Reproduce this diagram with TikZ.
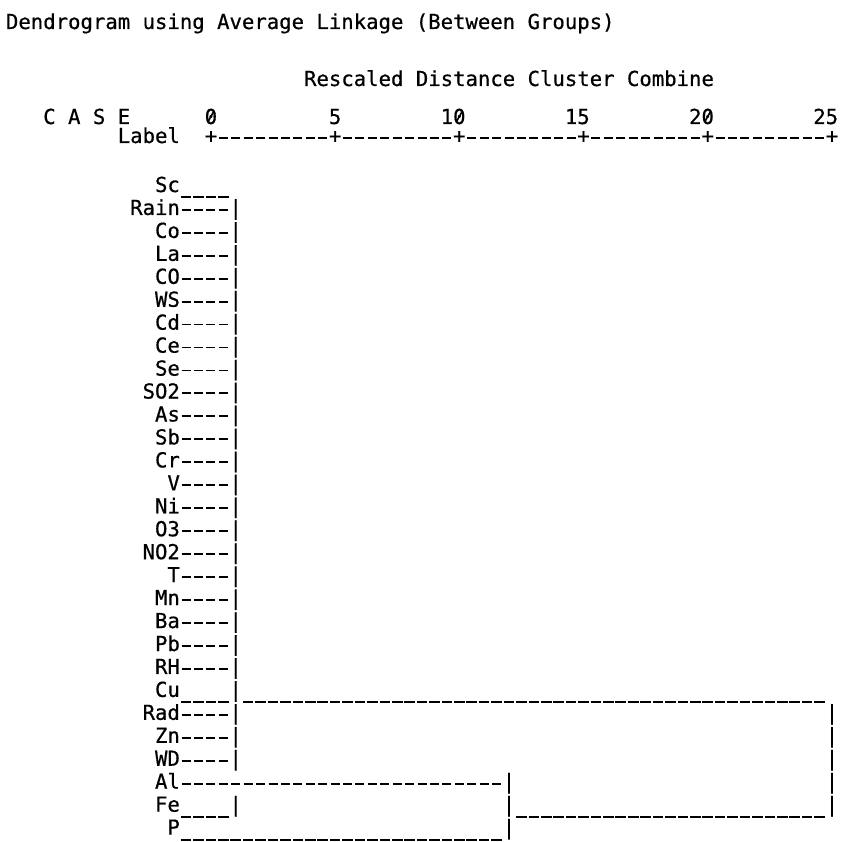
\documentclass[tikz,border=0pt]{standalone}
\usepackage{fontspec}
\setmonofont{DejaVu Sans Mono}[FakeBold=0.6]
\ExplSyntaxOn
\cs_new:Npn \myrep #1#2 { \prg_replicate:nn {#1} {#2} }
\ExplSyntaxOff
\newcommand{\mydash}{\makebox[12.42pt]{\rule[4.2pt]{9pt}{1.9pt}}}
\newcommand{\myus}{\makebox[12.42pt]{\rule[-6pt]{10.6pt}{1.9pt}}}
\newcommand{\us}[1]{\myrep{#1}{\myus}}
\newcommand{\hy}[1]{\myrep{#1}{\mydash}}
\begin{document}
\begin{tikzpicture}[x=1pt,y=1pt,
  txt/.style={inner sep=0pt, outer sep=0pt, text=black,
    font=\fontsize{20.63}{23}\selectfont\ttfamily},
  lft/.style={txt, anchor=base west},
  rgt/.style={txt, anchor=base east},
  zslash/.style={line width=1.6pt, black}]
\useasboundingbox (0,0) rectangle (843,-842);
% header
\node[lft] (title) at ({6+0*12.42}, -29) {Dendrogram using Average Linkage (Between Groups)};
\node[lft] (sub) at ({6+24*12.42}, -86) {Rescaled Distance Cluster Combine};
\node[lft] (case) at ({6+3*12.42}, -124) {C A S E};
\node[lft] (n0) at ({6+16*12.42}, -124) {0};
\node[lft] (n5) at ({6+26*12.42}, -124) {5};
\node[lft] (n10) at ({6+35*12.42}, -124) {10};
\node[lft] (n15) at ({6+45*12.42}, -124) {15};
\node[lft] (n20) at ({6+55*12.42}, -124) {20};
\node[lft] (n25) at ({6+65*12.42}, -124) {25};
% slashed zeros
\foreach \c in {16,36,56}
  \draw[zslash] ({6+(\c+0.5)*12.42-2.5}, -121) -- ({6+(\c+0.5)*12.42+2.5}, -112);
\node[lft] (label) at ({6+9*12.42}, -143) {Label};
\node[lft] (axis) at ({6+16*12.42}, -143) {+\hy{9}+\hy{9}+\hy{9}+\hy{9}+\hy{9}+};
% case labels
\foreach \lab [count=\i from 0] in {Sc,Rain,Co,La,CO,WS,Cd,Ce,Se,SO2,As,Sb,Cr,V,Ni,O3,NO2,T,Mn,Ba,Pb,RH,Cu,Rad,Zn,WD,Al,Fe,P}
  \node[rgt] (lab\i) at ({6+14*12.42}, {-(192+\i*22.95)}) {\lab};
% connectors of the first level
\node[lft] (c0) at ({6+14*12.42}, {-(192+0*22.95)}) {\us{4}};
\foreach \i in {1,...,21,23,24,25}
  \node[lft] (c\i) at ({6+14*12.42}, {-(192+\i*22.95)}) {\hy{4}|};
\node[lft] (c22) at ({6+14*12.42}, {-(192+22*22.95)}) {\us{4}|\us{47}};
\node[lft] (c26) at ({6+14*12.42}, {-(192+26*22.95)}) {\hy{26}|};
\node[lft] (c27) at ({6+14*12.42}, {-(192+27*22.95)}) {\us{4}|};
\node[lft] (c28) at ({6+14*12.42}, {-(192+28*22.95)}) {\us{26}|};
% second level
\node[lft] (d27) at ({6+40*12.42}, {-(192+27*22.95)}) {|\us{25}|};
% top level bar
\foreach \i in {23,24,25,26}
  \node[lft] (e\i) at ({6+66*12.42}, {-(192+\i*22.95)}) {|};
\end{tikzpicture}
\end{document}
